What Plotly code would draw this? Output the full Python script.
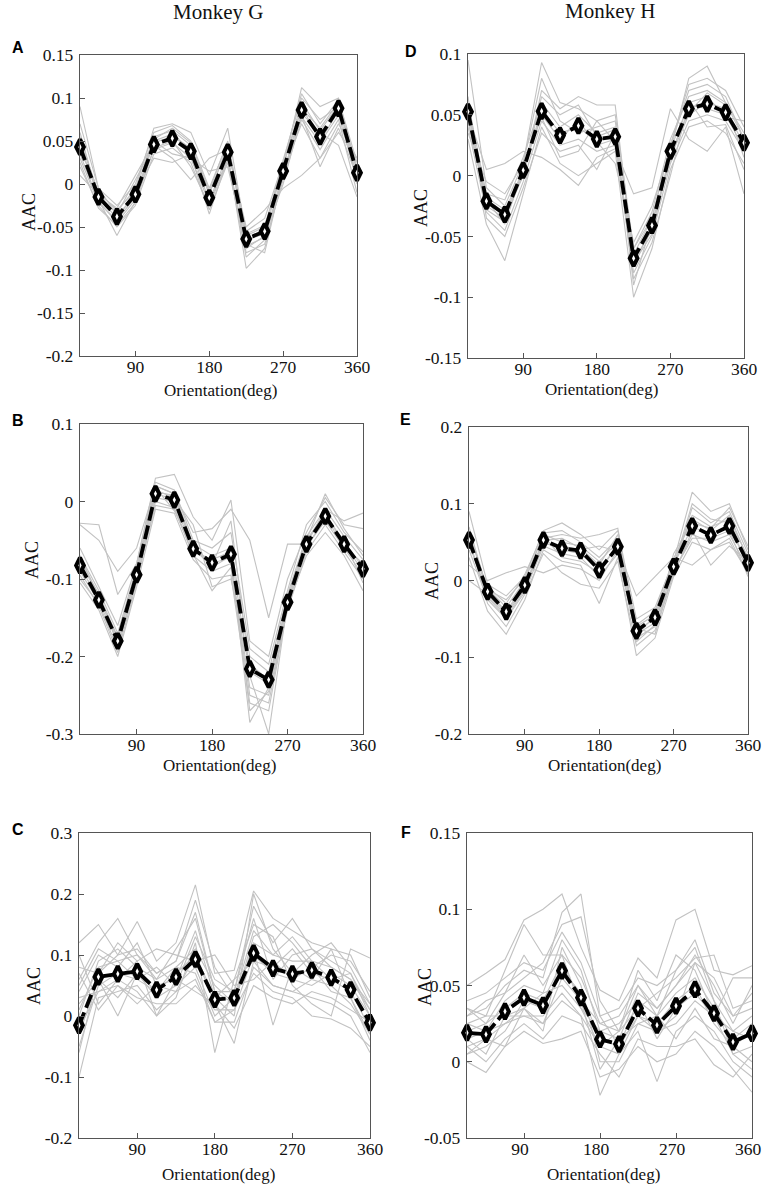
import plotly.graph_objects as go

# ---------------- data ----------------
orientation = [22.5, 45, 67.5, 90, 112.5, 135, 157.5, 180, 202.5, 225, 247.5, 270, 292.5, 315, 337.5, 360]
x_tick_vals = [90, 180, 270, 360]
x_tick_text = ["90", "180", "270", "360"]

mean_A = [0.043, -0.015, -0.038, -0.012, 0.046, 0.053, 0.038, -0.016, 0.037, -0.064, -0.055, 0.015, 0.086, 0.055, 0.088, 0.013]
mean_B = [-0.0825, -0.127, -0.18, -0.0945, 0.01, 0.002, -0.061, -0.079, -0.068, -0.216, -0.23, -0.13, -0.055, -0.019, -0.055, -0.087]
mean_C = [-0.0153, 0.064, 0.069, 0.073, 0.043, 0.064, 0.093, 0.027, 0.0295, 0.103, 0.078, 0.069, 0.075, 0.063, 0.043, -0.011]
mean_D = [0.0525, -0.021, -0.032, 0.0044, 0.053, 0.033, 0.041, 0.030, 0.032, -0.068, -0.041, 0.020, 0.055, 0.059, 0.052, 0.027]
mean_E = [0.0527, -0.0145, -0.0405, -0.006, 0.0527, 0.042, 0.039, 0.0137, 0.044, -0.0657, -0.048, 0.018, 0.071, 0.059, 0.071, 0.023]
mean_F = [0.019, 0.018, 0.033, 0.042, 0.037, 0.0596, 0.042, 0.0147, 0.0116, 0.035, 0.024, 0.0366, 0.0475, 0.0318, 0.013, 0.0186]

gray_A = [
    [0.050, -0.010, -0.030, -0.008, 0.055, 0.062, 0.045, -0.010, 0.042, -0.058, -0.048, 0.020, 0.095, 0.062, 0.092, 0.020],
    [0.035, -0.020, -0.045, -0.018, 0.040, 0.048, 0.030, -0.022, 0.030, -0.072, -0.062, 0.008, 0.078, 0.048, 0.080, 0.005],
    [0.090, -0.005, -0.025, 0.000, 0.060, 0.068, 0.050, -0.005, 0.048, -0.055, -0.040, 0.025, 0.105, 0.070, 0.098, 0.025],
    [0.020, -0.025, -0.050, -0.025, 0.035, 0.042, 0.025, -0.030, 0.025, -0.080, -0.070, 0.005, 0.075, 0.040, 0.075, -0.010],
    [0.010, -0.012, -0.035, 0.005, 0.045, 0.030, 0.005, 0.030, 0.040, -0.050, -0.030, -0.005, 0.010, 0.030, 0.060, 0.030],
    [0.060, -0.018, -0.060, -0.020, 0.050, 0.058, 0.040, -0.020, 0.035, -0.098, -0.075, 0.010, 0.090, 0.050, 0.085, 0.010],
    [0.040, -0.008, -0.032, -0.005, 0.065, 0.070, 0.060, 0.010, 0.065, -0.060, -0.050, 0.018, 0.112, 0.090, 0.100, 0.000],
    [0.030, -0.022, -0.042, -0.015, 0.050, 0.035, 0.030, 0.015, 0.020, -0.070, -0.080, 0.012, 0.082, 0.060, 0.045, -0.015],
    [0.045, -0.015, -0.040, -0.010, 0.030, 0.025, 0.035, -0.035, 0.030, -0.085, -0.065, 0.015, 0.070, 0.030, 0.070, 0.030],
    [0.055, -0.012, -0.028, 0.010, 0.048, 0.055, 0.042, -0.012, 0.045, -0.065, -0.058, 0.022, 0.088, 0.065, 0.095, 0.018],
    [0.025, -0.028, -0.048, -0.022, 0.042, 0.050, 0.020, -0.025, 0.028, -0.075, -0.060, 0.000, 0.080, 0.020, 0.065, 0.008],
    [0.070, -0.005, -0.036, -0.015, 0.052, 0.065, 0.048, -0.008, 0.050, -0.068, -0.052, 0.028, 0.100, 0.075, 0.090, 0.015],
]
gray_B = [
    [-0.030, -0.050, -0.090, -0.060, 0.020, 0.010, -0.040, -0.035, -0.010, -0.050, -0.150, -0.055, -0.055, -0.010, -0.025, -0.015],
    [-0.028, -0.030, -0.120, -0.080, 0.030, 0.035, -0.020, -0.050, 0.002, -0.180, -0.200, -0.100, -0.040, 0.005, -0.030, -0.035],
    [-0.070, -0.115, -0.170, -0.085, 0.020, 0.010, -0.055, -0.070, -0.060, -0.200, -0.220, -0.120, -0.045, -0.010, -0.045, -0.075],
    [-0.095, -0.135, -0.195, -0.105, 0.000, -0.008, -0.070, -0.090, -0.080, -0.240, -0.250, -0.140, -0.065, -0.030, -0.065, -0.100],
    [-0.060, -0.110, -0.160, -0.080, 0.025, 0.015, -0.050, -0.060, -0.040, -0.190, -0.210, -0.115, -0.030, 0.000, -0.040, -0.065],
    [-0.105, -0.140, -0.200, -0.110, -0.010, -0.015, -0.075, -0.100, -0.095, -0.260, -0.270, -0.135, -0.070, -0.040, -0.070, -0.115],
    [-0.085, -0.125, -0.175, -0.090, 0.015, 0.005, -0.060, -0.085, -0.070, -0.285, -0.240, -0.125, -0.050, -0.015, -0.055, -0.090],
    [-0.075, -0.120, -0.185, -0.100, 0.005, 0.000, -0.065, -0.075, -0.065, -0.225, -0.300, -0.130, -0.060, -0.020, -0.058, -0.080],
    [-0.090, -0.130, -0.180, -0.095, 0.010, 0.003, -0.030, -0.110, -0.100, -0.210, -0.230, -0.128, -0.058, -0.025, -0.060, -0.095],
    [-0.100, -0.132, -0.190, -0.100, -0.005, -0.010, -0.068, -0.115, -0.085, -0.250, -0.260, -0.135, -0.060, -0.020, -0.050, -0.105],
    [-0.080, -0.120, -0.175, -0.090, 0.012, 0.008, -0.058, -0.080, -0.072, -0.270, -0.245, -0.132, -0.052, -0.018, -0.052, -0.085],
    [-0.070, -0.125, -0.178, -0.092, 0.018, -0.012, -0.060, -0.082, -0.025, -0.220, -0.235, -0.125, -0.050, 0.010, -0.035, -0.070],
]
gray_C = [
    [0.120, 0.150, 0.100, 0.155, 0.090, 0.120, 0.215, 0.070, 0.075, 0.205, 0.160, 0.140, 0.120, 0.110, 0.100, 0.030],
    [-0.100, 0.030, 0.040, 0.050, 0.010, 0.040, 0.060, -0.010, -0.010, 0.080, 0.050, 0.040, 0.030, 0.020, 0.000, -0.060],
    [0.060, 0.120, 0.160, 0.100, 0.070, 0.090, 0.170, 0.040, 0.040, 0.180, 0.120, 0.160, 0.110, 0.090, 0.070, 0.000],
    [0.020, 0.060, 0.000, 0.070, 0.030, 0.050, 0.080, 0.000, 0.030, 0.110, -0.015, 0.080, 0.060, 0.050, 0.020, -0.030],
    [0.000, 0.090, 0.110, 0.080, 0.060, 0.080, 0.110, 0.050, 0.020, 0.120, 0.100, 0.090, 0.090, 0.080, 0.060, 0.010],
    [0.100, 0.020, 0.060, 0.040, 0.000, 0.030, 0.120, -0.060, 0.060, 0.150, 0.130, 0.050, 0.020, 0.000, 0.110, 0.095],
    [-0.050, 0.050, 0.070, 0.060, 0.040, 0.070, 0.100, 0.020, -0.045, 0.090, 0.080, 0.110, 0.070, 0.060, 0.040, -0.020],
    [0.040, 0.100, 0.080, 0.120, 0.050, 0.060, 0.140, 0.030, 0.000, 0.200, 0.110, 0.070, 0.100, 0.120, 0.080, 0.020],
    [0.080, 0.070, 0.120, 0.090, 0.110, 0.100, 0.090, 0.100, 0.050, 0.060, 0.090, 0.060, 0.050, 0.070, 0.050, 0.000],
    [-0.020, 0.040, 0.050, 0.030, 0.020, 0.020, 0.050, 0.010, 0.010, 0.070, 0.040, 0.030, 0.000, -0.005, -0.020, -0.050],
    [0.010, 0.080, 0.090, 0.100, 0.060, 0.110, 0.160, 0.040, 0.020, 0.130, 0.150, 0.120, 0.080, 0.100, 0.090, 0.040],
    [-0.030, 0.060, 0.030, 0.070, 0.040, 0.080, 0.070, -0.010, 0.010, 0.100, 0.070, 0.060, 0.080, 0.040, 0.030, -0.040],
    [0.050, 0.110, 0.090, 0.060, 0.080, 0.050, 0.130, 0.060, 0.040, 0.160, 0.060, 0.100, 0.110, 0.080, 0.060, 0.020],
    [0.030, 0.040, 0.060, 0.090, 0.000, 0.060, 0.040, 0.020, -0.020, 0.050, 0.030, 0.020, 0.040, 0.030, 0.010, -0.010],
    [-0.060, 0.070, 0.100, 0.110, 0.070, 0.090, 0.190, 0.080, 0.030, 0.140, 0.100, 0.130, 0.090, 0.060, 0.070, 0.010],
    [0.070, 0.010, 0.050, 0.020, 0.050, 0.040, 0.100, 0.030, 0.060, 0.090, 0.050, 0.040, 0.060, 0.110, 0.030, -0.030],
]
gray_D = [
    [0.095, -0.010, -0.025, 0.010, 0.093, 0.060, 0.055, 0.045, 0.050, -0.060, -0.035, 0.025, 0.075, 0.080, 0.070, 0.040],
    [0.040, -0.030, -0.045, -0.005, 0.045, 0.025, 0.030, 0.020, 0.025, -0.080, -0.050, 0.010, 0.045, 0.050, 0.045, 0.020],
    [0.060, -0.015, -0.020, 0.015, 0.060, 0.040, 0.050, 0.035, 0.040, -0.060, -0.030, 0.030, 0.065, 0.070, 0.060, 0.035],
    [0.030, -0.040, -0.070, -0.015, 0.040, 0.010, 0.000, 0.010, 0.020, -0.100, -0.060, 0.005, 0.040, 0.045, 0.035, 0.010],
    [0.050, 0.005, 0.010, 0.020, 0.015, 0.005, -0.008, 0.015, 0.022, -0.015, -0.010, 0.055, 0.030, 0.020, 0.040, -0.015],
    [0.055, -0.025, -0.035, 0.000, 0.070, 0.055, 0.065, 0.058, 0.058, -0.070, -0.045, 0.020, 0.080, 0.090, 0.060, 0.030],
    [0.045, -0.020, -0.040, 0.005, 0.050, 0.030, 0.045, 0.025, 0.030, -0.075, -0.040, 0.015, 0.050, 0.060, 0.055, 0.025],
    [0.065, -0.035, -0.050, -0.010, 0.035, 0.020, 0.025, 0.005, 0.035, -0.085, -0.055, 0.000, 0.060, 0.065, 0.048, 0.045],
    [0.035, -0.005, -0.015, 0.010, 0.080, 0.045, 0.035, 0.040, 0.045, -0.065, -0.035, 0.025, 0.070, 0.075, 0.065, 0.030],
    [0.050, -0.018, -0.028, 0.002, 0.055, 0.035, 0.040, 0.028, 0.010, -0.055, -0.025, 0.022, 0.058, 0.055, 0.050, 0.022],
    [0.058, -0.028, -0.038, 0.008, 0.048, 0.015, 0.020, 0.045, 0.028, -0.072, -0.048, 0.018, 0.052, 0.068, 0.058, 0.015],
    [0.045, -0.022, -0.030, 0.000, 0.065, 0.050, 0.058, 0.032, 0.038, -0.090, -0.038, 0.012, 0.062, 0.040, 0.042, 0.005],
]
gray_E = [
    [0.090, -0.005, -0.020, 0.005, 0.065, 0.075, 0.060, 0.040, 0.065, -0.050, -0.035, 0.025, 0.115, 0.090, 0.100, 0.040],
    [0.040, -0.025, -0.050, -0.015, 0.045, 0.035, 0.030, 0.005, 0.035, -0.075, -0.060, 0.010, 0.060, 0.050, 0.060, 0.015],
    [0.060, -0.010, -0.035, 0.000, 0.060, 0.050, 0.045, 0.025, 0.050, -0.060, -0.045, 0.022, 0.085, 0.070, 0.080, 0.030],
    [0.020, 0.000, 0.010, 0.018, 0.010, 0.020, 0.015, 0.000, 0.040, -0.020, 0.005, 0.030, 0.020, 0.040, 0.050, 0.010],
    [0.030, -0.040, -0.070, -0.025, 0.040, 0.025, 0.020, -0.030, 0.030, -0.098, -0.075, 0.005, 0.050, 0.040, 0.055, 0.008],
    [0.050, -0.020, -0.045, -0.010, 0.055, 0.060, 0.055, 0.060, 0.068, -0.070, -0.055, 0.015, 0.095, 0.075, 0.090, 0.035],
    [0.070, -0.015, -0.040, -0.005, 0.050, 0.040, 0.035, 0.015, 0.045, -0.065, -0.050, 0.020, 0.070, 0.060, 0.070, 0.020],
    [0.055, -0.030, -0.060, -0.018, 0.035, 0.010, -0.005, -0.010, 0.025, -0.085, -0.065, 0.008, 0.065, 0.020, 0.045, 0.025],
    [0.045, -0.008, -0.030, 0.008, 0.062, 0.065, 0.050, 0.030, 0.055, -0.058, -0.040, 0.028, 0.080, 0.065, 0.085, 0.028],
    [0.000, -0.018, -0.042, -0.008, 0.048, 0.045, 0.040, 0.045, 0.038, -0.072, -0.045, 0.018, 0.100, 0.080, 0.075, 0.018],
    [0.065, -0.012, -0.025, 0.002, 0.058, 0.030, 0.025, 0.010, 0.048, -0.062, -0.070, 0.012, 0.055, 0.055, 0.065, 0.005],
    [0.050, -0.022, -0.048, -0.012, 0.052, 0.055, 0.042, 0.020, 0.060, -0.080, -0.058, 0.035, 0.075, 0.068, 0.095, 0.045],
]
gray_F = [
    [0.050, 0.058, 0.067, 0.093, 0.100, 0.110, 0.075, 0.047, 0.040, 0.068, 0.055, 0.093, 0.100, 0.060, 0.057, 0.063],
    [0.000, -0.007, 0.010, 0.020, 0.012, 0.015, 0.020, -0.010, -0.005, 0.010, 0.000, 0.005, 0.020, 0.010, -0.005, -0.020],
    [0.030, 0.035, 0.050, 0.060, 0.055, 0.098, 0.110, 0.030, 0.010, 0.040, 0.030, 0.060, 0.075, 0.040, 0.020, 0.030],
    [0.010, 0.015, 0.025, 0.035, 0.020, 0.075, 0.050, 0.000, 0.000, 0.025, 0.020, 0.030, 0.065, 0.040, 0.005, 0.010],
    [0.025, 0.020, 0.040, 0.050, 0.045, 0.080, 0.060, 0.020, 0.015, 0.045, 0.035, 0.050, 0.070, 0.050, 0.025, 0.050],
    [0.015, 0.005, 0.030, 0.030, 0.025, 0.040, 0.030, -0.022, 0.005, 0.020, -0.013, 0.020, 0.030, 0.020, 0.000, -0.010],
    [0.035, 0.030, 0.060, 0.090, 0.070, 0.070, 0.035, 0.010, 0.020, 0.060, 0.040, 0.070, 0.060, 0.030, 0.055, 0.055],
    [0.005, 0.010, 0.020, 0.040, 0.035, 0.060, 0.045, 0.015, 0.010, 0.030, 0.025, 0.040, 0.050, 0.025, 0.010, 0.000],
    [0.020, 0.025, 0.035, 0.045, 0.040, 0.065, 0.040, 0.025, 0.030, 0.050, 0.030, 0.045, 0.055, 0.035, 0.015, 0.025],
    [0.030, 0.040, 0.045, 0.055, 0.065, 0.090, 0.095, 0.040, 0.020, 0.035, 0.045, 0.055, 0.068, 0.070, 0.035, 0.040],
    [0.010, 0.000, 0.015, 0.025, 0.015, 0.030, 0.025, 0.005, -0.010, 0.015, 0.010, 0.010, 0.015, -0.002, -0.010, 0.005],
    [0.025, 0.030, 0.030, 0.035, 0.045, 0.050, 0.035, 0.020, 0.025, 0.040, 0.015, 0.035, 0.045, 0.030, 0.020, 0.015],
    [0.040, 0.045, 0.055, 0.065, 0.060, 0.085, 0.065, 0.030, 0.035, 0.055, 0.050, 0.060, 0.080, 0.045, 0.030, 0.045],
    [0.015, 0.020, 0.025, 0.030, 0.030, 0.045, 0.030, 0.010, 0.005, 0.030, 0.020, 0.025, 0.040, 0.030, 0.005, -0.005],
    [0.005, 0.015, 0.010, 0.035, 0.025, 0.055, 0.040, -0.005, 0.015, 0.025, 0.030, 0.015, 0.035, 0.015, 0.010, 0.020],
    [0.035, 0.025, 0.045, 0.070, 0.050, 0.070, 0.055, 0.025, 0.020, 0.050, 0.035, 0.050, 0.065, 0.055, 0.030, 0.035],
]

yticks_A = [0.15, 0.1, 0.05, 0, -0.05, -0.1, -0.15, -0.2]
yticks_B = [0.1, 0, -0.1, -0.2, -0.3]
yticks_C = [0.3, 0.2, 0.1, 0, -0.1, -0.2]
yticks_D = [0.1, 0.05, 0, -0.05, -0.1, -0.15]
yticks_E = [0.2, 0.1, 0, -0.1, -0.2]
yticks_F = [0.15, 0.1, 0.05, 0, -0.05]

panel_letters = ["A", "B", "C", "D", "E", "F"]
column_titles = ["Monkey G", "Monkey H"]
x_title = "Orientation(deg)"
y_title = "AAC"

# ---------------- layout geometry (pixels) ----------------
W, H = 765, 1185
# left, right, top, bottom of each plot box
boxes = {
    "A": (80, 357, 55, 356),
    "B": (80, 363, 424, 734),
    "C": (79, 370, 833, 1138),
    "D": (468, 744, 54, 358),
    "E": (469, 748, 427, 734),
    "F": (467, 752, 833, 1138),
}
label_shift = {"A": 0, "B": 0, "C": 0, "D": 0, "E": 0, "F": -4}
letter_pos = {"A": (18, 48), "B": (18, 420), "C": (18, 829), "D": (411, 51), "E": (405, 419), "F": (406, 832)}
ytitle_pos = {"A": (29, 212), "B": (32, 560), "C": (34, 986), "D": (421, 208), "E": (432, 581), "F": (425, 987)}
xtitle_pos = {"A": (221, 390), "B": (220, 765), "C": (218, 1174), "D": (601, 389), "E": (604, 765), "F": (603, 1174)}
coltitle_pos = [(218, 12), (610, 11)]

panels = {
    "A": (mean_A, gray_A, yticks_A),
    "B": (mean_B, gray_B, yticks_B),
    "C": (mean_C, gray_C, yticks_C),
    "D": (mean_D, gray_D, yticks_D),
    "E": (mean_E, gray_E, yticks_E),
    "F": (mean_F, gray_F, yticks_F),
}

def px(x):
    return x / W

def py(y):
    return 1 - y / H

def fmt(v):
    return "%g" % v

SERIF = "Liberation Serif"
AXC = "#555555"

fig = go.Figure()
layout = dict(width=W, height=H, margin=dict(l=0, r=0, t=0, b=0, pad=0),
              paper_bgcolor="white", plot_bgcolor="white", showlegend=False,
              annotations=[])

for i, key in enumerate(panel_letters):
    mean, gray, yt = panels[key]
    n = i + 1
    xa = "x" if n == 1 else "x%d" % n
    ya = "y" if n == 1 else "y%d" % n
    for g in gray:
        fig.add_trace(go.Scatter(x=orientation, y=g, mode="lines",
                                 line=dict(color="#c2c2c2", width=1.1),
                                 xaxis=xa, yaxis=ya, hoverinfo="skip"))
    fig.add_trace(go.Scatter(x=orientation, y=mean, mode="lines+markers",
                             line=dict(color="black", width=3.8, dash="14px,5px"),
                             marker=dict(symbol="diamond-tall", size=11, color="white",
                                         line=dict(color="black", width=4)),
                             cliponaxis=False, xaxis=xa, yaxis=ya))
    l, r, t, b = boxes[key]
    axis_common = dict(showline=True, linecolor=AXC, linewidth=1.3, mirror=True,
                       ticks="inside", ticklen=5, tickcolor=AXC, tickwidth=1.2,
                       showgrid=False, zeroline=False, automargin=False,
                       tickfont=dict(family=SERIF, size=17.5, color="#111"))
    layout["xaxis" if n == 1 else "xaxis%d" % n] = dict(
        domain=[px(l), px(r)], range=[orientation[0], orientation[-1]],
        tickvals=x_tick_vals, ticktext=x_tick_text, ticklabelstandoff=-5,
        ticklabelshift=label_shift[key],
        anchor=ya, **axis_common)
    layout["yaxis" if n == 1 else "yaxis%d" % n] = dict(
        domain=[py(b), py(t)], range=[min(yt), max(yt)],
        tickvals=yt, ticktext=[fmt(v) for v in yt], ticklabelstandoff=2,
        anchor=xa, **axis_common)
    # panel letter
    lx, ly = letter_pos[key]
    layout["annotations"].append(dict(text="<b>%s</b>" % key, x=px(lx), y=py(ly),
        xref="paper", yref="paper", showarrow=False, xanchor="center", yanchor="middle",
        font=dict(family="Liberation Sans", size=16, color="black")))
    # y title
    tx, ty = ytitle_pos[key]
    layout["annotations"].append(dict(text=y_title, x=px(tx), y=py(ty), textangle=-90,
        xref="paper", yref="paper", showarrow=False, xanchor="center", yanchor="middle",
        font=dict(family=SERIF, size=18, color="#111")))
    # x title
    tx, ty = xtitle_pos[key]
    layout["annotations"].append(dict(text=x_title, x=px(tx), y=py(ty),
        xref="paper", yref="paper", showarrow=False, xanchor="center", yanchor="middle",
        font=dict(family=SERIF, size=17, color="#111")))

for title, (cx, cy) in zip(column_titles, coltitle_pos):
    layout["annotations"].append(dict(text=title, x=px(cx), y=py(cy),
        xref="paper", yref="paper", showarrow=False, xanchor="center", yanchor="middle",
        font=dict(family=SERIF, size=21, color="#111")))

fig.update_layout(**layout)
fig.write_html("out.html", config={"displayModeBar": False},
               post_script="document.body.style.margin='0px';document.body.style.overflow='hidden';")
